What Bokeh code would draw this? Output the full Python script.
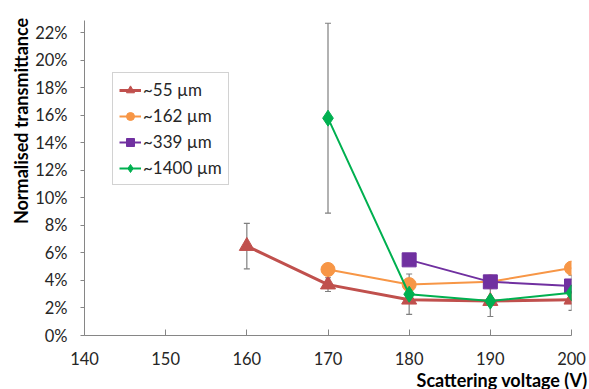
from bokeh.plotting import figure
from bokeh.models import ColumnDataSource, Whisker, TeeHead, NumeralTickFormatter, FixedTicker, Legend, LegendItem, Title, Range1d
from bokeh.embed import file_html
from bokeh.resources import INLINE

# data
x55 = [160, 170, 180, 190, 200]
y55 = [0.065, 0.037, 0.026, 0.025, 0.026]
x162 = [170, 180, 190, 200]
y162 = [0.048, 0.037, 0.039, 0.049]
x339 = [180, 190, 200]
y339 = [0.055, 0.039, 0.036]
x1400 = [170, 180, 190, 200]
y1400 = [0.158, 0.030, 0.025, 0.031]
err_x = [160, 170, 170, 180, 190, 200]
err_y = [0.065, 0.037, 0.158, 0.030, 0.025, 0.031]
err_e = [0.0165, 0.005, 0.069, 0.0147, 0.0112, 0.0128]
labels = ["~55 µm", "~162 µm", "~339 µm", "~1400 µm"]
yticks = [i / 100 for i in range(0, 23, 2)]
xticks = [140, 150, 160, 170, 180, 190, 200]

FONT = "Lato"
TXT = "#262626"
AX = "#868686"

p = figure(width=589, height=389, output_backend="svg", toolbar_location=None,
           x_range=Range1d(140, 200), y_range=Range1d(0, 0.229),
           min_border_left=84, min_border_right=18, min_border_top=20, min_border_bottom=0)
p.outline_line_color = None
p.grid.visible = False
p.background_fill_color = "white"

p.xaxis.ticker = FixedTicker(ticks=xticks)
p.yaxis.ticker = FixedTicker(ticks=yticks)
p.yaxis.formatter = NumeralTickFormatter(format="0%")
for ax in (p.xaxis, p.yaxis):
    ax.axis_line_color = AX
    ax.major_tick_line_color = AX
    ax.minor_tick_line_color = None
    ax.major_label_text_font = FONT
    ax.major_label_text_font_size = "16.5px"
    ax.major_label_text_color = TXT
p.xaxis.major_tick_in = 6
p.xaxis.major_tick_out = 0
p.xaxis.major_label_standoff = 16
p.yaxis.major_tick_in = 0
p.yaxis.major_tick_out = 4
p.yaxis.major_label_standoff = 13

ty = Title(text="Normalised  transmittance", align="right", text_font=FONT, text_font_size="18px",
           text_font_style="bold", text_color="black", offset=-7, standoff=2)
p.add_layout(ty, "left")
tx = Title(text="Scattering voltage (V)", align="right", text_font=FONT, text_font_size="18px",
           text_font_style="bold", text_color="black", offset=-16, standoff=-2)
p.add_layout(tx, "below")

# error bars
esrc = ColumnDataSource(dict(x=err_x, lo=[a - b for a, b in zip(err_y, err_e)], hi=[a + b for a, b in zip(err_y, err_e)]))
w = Whisker(source=esrc, base="x", lower="lo", upper="hi", dimension="height",
            line_color="#7f7f7f", line_width=1.2,
            upper_head=TeeHead(size=6, line_color="#7f7f7f", line_width=1.2),
            lower_head=TeeHead(size=6, line_color="#7f7f7f", line_width=1.2))
p.add_layout(w)

items = []
specs = [
    (x55, y55, "#C0504D", 3, "triangle", 15),
    (x162, y162, "#F79646", 2, "circle", 14),
    (x339, y339, "#7030A0", 2, "square", 14),
    (x1400, y1400, "#00B050", 2, "diamond", 16),
]
for (xs, ys, c, lw, m, s), lab in zip(specs, labels):
    src = ColumnDataSource(dict(x=xs, y=ys))
    l = p.line("x", "y", source=src, line_color=c, line_width=lw)
    sc = p.scatter("x", "y", source=src, marker=m, size=s, fill_color=c, line_color=c)
    items.append(LegendItem(label=lab, renderers=[l, sc]))

leg = Legend(items=items, location=(28, 150), border_line_color="#a6a6a6", border_line_width=1,
             label_text_font=FONT, label_text_font_size="17px", label_text_color=TXT,
             glyph_width=22, glyph_height=20, label_height=20, spacing=5,
             padding=6, margin=0, label_standoff=2, background_fill_alpha=1)
p.add_layout(leg, "center")

open("out.html", "w").write(file_html(p, INLINE))
